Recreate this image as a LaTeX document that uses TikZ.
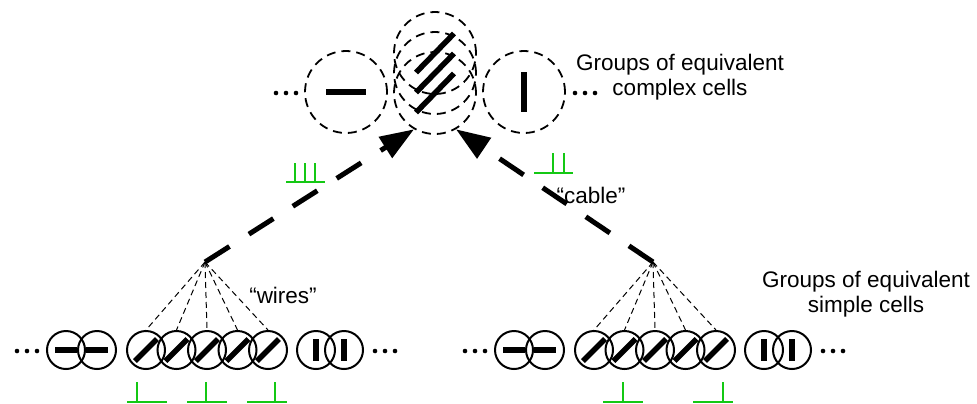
\documentclass[tikz,border=0pt]{standalone}
\usepackage{fontspec}
\setmainfont{Liberation Sans}
\usetikzlibrary{arrows.meta}
\definecolor{spikegreen}{RGB}{20,200,20}

\begin{document}
\begin{tikzpicture}[x=0.5pt, y=-0.5pt, font=\fontsize{11.25}{12.5}\selectfont,
    simple/.style={circle, draw, line width=1pt, minimum size=19pt, inner sep=0pt},
    complex/.style={circle, draw, line width=0.9pt, dash pattern=on 4.5pt off 3pt,
        minimum size=41pt, inner sep=0pt},
    bar/.style={line width=2.75pt},
    wire/.style={line width=0.5pt, dash pattern=on 3pt off 2pt},
    cable/.style={line width=2.5pt, dash pattern=on 14.5pt off 11.5pt,
        -{Triangle[length=17pt, width=12pt]}},
    spike/.style={draw=spikegreen, line width=0.6pt}]
    \useasboundingbox (0,0) rectangle (977,403);

    % Groups of complex cells
    \foreach \x in {276,286,296,575,585,595}
        \fill (\x,93) circle[radius=2.3];
    \node[complex] (ch) at (346,92) {};
    \node[complex] (co1) at (435,53) {};
    \node[complex] (co2) at (435,73) {};
    \node[complex] (co3) at (435,93) {};
    \node[complex] (cv) at (524,92) {};
    \draw[bar] ([xshift=-10pt]ch.center) -- ([xshift=10pt]ch.center);
    \draw[bar] ([yshift=10pt]cv.center) -- ([yshift=-10pt]cv.center);
    \foreach \i in {1,2,3}
        \draw[bar] ([shift={(-19,19.5)}]co\i.center) -- ([shift={(19,-19.5)}]co\i.center);
    \node[align=center] (clabel) at (680,77) {Groups of equivalent\\complex cells};

    % Groups of simple cells, left and right
    \foreach \g/\dx in {l/0, r/448} {
        \foreach \x in {17,27,37,375,385,395}
            \fill (\x+\dx,351) circle[radius=2.3];
        \foreach \i/\x in {1/66, 2/97} {
            \node[simple] (\g h\i) at (\x+\dx,350) {};
            \draw[bar] ([xshift=-5.5pt]\g h\i.center) -- ([xshift=5.5pt]\g h\i.center);
        }
        \foreach \i/\x in {1/146, 2/176.5, 3/207, 4/237.5, 5/268} {
            \node[simple] (\g o\i) at (\x+\dx,350) {};
            \draw[bar] ([shift={(-11,11)}]\g o\i.center) -- ([shift={(11,-11)}]\g o\i.center);
        }
        \foreach \i/\x in {1/316, 2/344} {
            \node[simple] (\g v\i) at (\x+\dx,350) {};
            \draw[bar] ([yshift=5.5pt]\g v\i.center) -- ([yshift=-5.5pt]\g v\i.center);
        }
        % wires into the cable
        \coordinate (\g w) at (205+\dx,262);
        \foreach \i in {1,...,5}
            \draw[wire] (\g w) -- (\g o\i.north);
    }
    \node[align=center] (slabel) at (866,294) {Groups of equivalent\\simple cells};
    \node (wlabel) at (283,295) {“wires”};

    % Cables
    \draw[cable] (lw) -- (co3.240);
    \draw[cable] (rw) -- (co3.300);
    \node (cablelabel) at (591,195) {“cable”};

    % Spike trains
    \foreach \x/\t in {127/10, 187/19, 247/28, 603/20, 693/30}
        \draw[spike] (\x,402) -- +(40,0) (\x+\t,402) -- +(0,-20);
    \draw[spike] (286,182) -- (325,182) (295,182) -- (295,163)
        (305,182) -- (305,163) (315,182) -- (315,163);
    \draw[spike] (534,173) -- (573,173) (553,173) -- (553,153)
        (564,173) -- (564,153);
\end{tikzpicture}
\end{document}
